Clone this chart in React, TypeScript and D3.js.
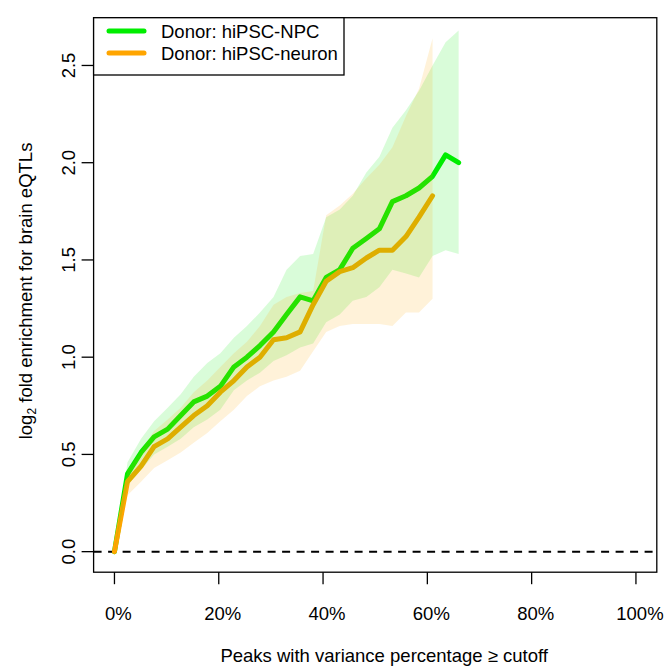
import React, { useEffect, useRef } from 'react'
import * as d3 from 'd3'

// percent of peaks kept at each variance cutoff
const cutoffs = [
  0, 2.5, 5.1, 7.6, 10.2, 12.7, 15.2, 17.8, 20.3, 22.9, 25.4, 27.9, 30.5, 33.0,
  35.6, 38.1, 40.6, 43.2, 45.7, 48.3, 50.8, 53.3, 55.9, 58.4, 61.0, 63.5, 66.0,
]

const npcMean = [
  0, 0.4, 0.51, 0.59, 0.63, 0.7, 0.77, 0.8, 0.85, 0.95, 1.0, 1.06, 1.13, 1.22,
  1.31, 1.29, 1.41, 1.45, 1.56, 1.61, 1.66, 1.8, 1.83, 1.87, 1.93, 2.04, 2.0,
]
const npcUpper = [
  0, 0.46, 0.58, 0.67, 0.74, 0.81, 0.9, 0.97, 1.02, 1.1, 1.16, 1.23, 1.31, 1.45,
  1.52, 1.53, 1.72, 1.76, 1.83, 1.95, 2.03, 2.18, 2.27, 2.37, 2.5, 2.62, 2.68,
]
const npcLower = [
  0, 0.34, 0.42, 0.5, 0.54, 0.58, 0.64, 0.68, 0.73, 0.83, 0.88, 0.92, 0.98, 1.01,
  1.05, 1.07, 1.18, 1.22, 1.29, 1.31, 1.36, 1.45, 1.43, 1.41, 1.52, 1.55, 1.53,
]

const neuronMean = [
  0, 0.36, 0.44, 0.54, 0.58, 0.64, 0.7, 0.75, 0.82, 0.88, 0.95, 1.0, 1.09, 1.1,
  1.13, 1.27, 1.39, 1.44, 1.46, 1.51, 1.55, 1.55, 1.62, 1.72, 1.83,
]
const neuronUpper = [
  0, 0.42, 0.52, 0.62, 0.68, 0.74, 0.82, 0.88, 0.95, 1.02, 1.08, 1.16, 1.27, 1.31,
  1.33, 1.34, 1.73, 1.78, 1.84, 1.92, 1.99, 2.08, 2.24, 2.38, 2.64,
]
const neuronLower = [
  0, 0.29, 0.36, 0.43, 0.47, 0.51, 0.56, 0.61, 0.67, 0.73, 0.8, 0.85, 0.88, 0.9,
  0.93, 1.03, 1.13, 1.16, 1.17, 1.17, 1.17, 1.16, 1.23, 1.23, 1.3,
]

const xTicks = [0, 20, 40, 60, 80, 100]
const yTicks = [0, 0.5, 1.0, 1.5, 2.0, 2.5]
const legendLabels = ['Donor: hiPSC-NPC', 'Donor: hiPSC-neuron']

const green = '#00EE00'
const orange = '#FFA500'
const font = "'Liberation Sans', Arial, Helvetica, sans-serif"
const fontSize = 18.5

// R style axes: 4% padding around the data limits
const x = d3.scaleLinear().domain([-4, 104]).range([93.6, 656.8])
const y = d3.scaleLinear().domain([-0.1056, 2.7456]).range([572.2, 17.7])

const App = () => {
  const svgRef = useRef<SVGSVGElement>(null)

  useEffect(() => {
    const svg = d3.select(svgRef.current)
    svg.selectAll('*').remove()

    const [left, right] = x.range()
    const [bottom, top] = y.range()

    svg
      .append('clipPath')
      .attr('id', 'plot-area')
      .append('rect')
      .attr('x', left)
      .attr('y', top)
      .attr('width', right - left)
      .attr('height', bottom - top)

    const plot = svg.append('g').attr('clip-path', 'url(#plot-area)')

    plot
      .append('line')
      .attr('x1', left)
      .attr('x2', right)
      .attr('y1', y(0))
      .attr('y2', y(0))
      .attr('stroke', '#000')
      .attr('stroke-width', 2)
      .attr('stroke-dasharray', '8,6.5')

    const line = d3
      .line<number>()
      .x((d, i) => x(cutoffs[i]))
      .y((d) => y(d))

    const series = [
      { mean: npcMean, lower: npcLower, upper: npcUpper, color: green },
      { mean: neuronMean, lower: neuronLower, upper: neuronUpper, color: orange },
    ]

    series.forEach((s) => {
      plot
        .append('path')
        .datum(s.mean)
        .attr('d', line)
        .attr('fill', 'none')
        .attr('stroke', s.color)
        .attr('stroke-width', 5)
        .attr('stroke-linejoin', 'round')
        .attr('stroke-linecap', 'round')
    })

    // confidence bands drawn over the lines, as in the original
    series.forEach((s) => {
      const area = d3
        .area<number>()
        .x((d, i) => x(cutoffs[i]))
        .y0((d, i) => y(s.lower[i]))
        .y1((d) => y(d))
      plot
        .append('path')
        .datum(s.upper)
        .attr('d', area)
        .attr('fill', s.color)
        .attr('fill-opacity', 0.15)
    })

    svg
      .append('rect')
      .attr('x', left)
      .attr('y', top)
      .attr('width', right - left)
      .attr('height', bottom - top)
      .attr('fill', 'none')
      .attr('stroke', '#000')
      .attr('stroke-width', 1.3)

    const xAxis = svg.append('g')
    xAxis
      .selectAll('line')
      .data(xTicks)
      .join('line')
      .attr('x1', (d) => x(d))
      .attr('x2', (d) => x(d))
      .attr('y1', bottom)
      .attr('y2', bottom + 12)
      .attr('stroke', '#000')
      .attr('stroke-width', 1.3)
    xAxis
      .selectAll('text')
      .data(xTicks)
      .join('text')
      .attr('x', (d) => x(d) + 4)
      .attr('y', 620)
      .attr('text-anchor', 'middle')
      .attr('font-family', font)
      .attr('font-size', fontSize)
      .text((d) => `${d}%`)

    const yAxis = svg.append('g')
    yAxis
      .selectAll('line')
      .data(yTicks)
      .join('line')
      .attr('x1', left - 12)
      .attr('x2', left)
      .attr('y1', (d) => y(d))
      .attr('y2', (d) => y(d))
      .attr('stroke', '#000')
      .attr('stroke-width', 1.3)
    yAxis
      .selectAll('text')
      .data(yTicks)
      .join('text')
      .attr('transform', (d) => `translate(75,${y(d)}) rotate(-90)`)
      .attr('text-anchor', 'middle')
      .attr('font-family', font)
      .attr('font-size', fontSize)
      .text((d) => d.toFixed(1))

    svg
      .append('text')
      .attr('x', (left + right) / 2 + 9)
      .attr('y', 662)
      .attr('text-anchor', 'middle')
      .attr('font-family', font)
      .attr('font-size', fontSize)
      .text('Peaks with variance percentage \u2265 cutoff')

    const yTitle = svg
      .append('text')
      .attr('transform', `translate(32,${(top + bottom) / 2 - 4}) rotate(-90)`)
      .attr('text-anchor', 'middle')
      .attr('font-family', font)
      .attr('font-size', fontSize)
    yTitle.append('tspan').text('log')
    yTitle.append('tspan').attr('font-size', 12).attr('dy', 4).text('2')
    yTitle.append('tspan').attr('dy', -4).text(' fold enrichment for brain eQTLs')

    const legend = svg.append('g')
    legend
      .append('rect')
      .attr('x', left)
      .attr('y', top)
      .attr('width', 344 - left)
      .attr('height', 75 - top)
      .attr('fill', '#fff')
      .attr('stroke', '#000')
      .attr('stroke-width', 1.3)

    const rows = legend
      .selectAll('g.row')
      .data(legendLabels)
      .join('g')
      .attr('class', 'row')
      .attr('transform', (d, i) => `translate(0,${31 + i * 22})`)
    rows
      .append('line')
      .attr('x1', 109)
      .attr('x2', 144)
      .attr('stroke', (d, i) => series[i].color)
      .attr('stroke-width', 5)
      .attr('stroke-linecap', 'round')
    rows
      .append('text')
      .attr('x', 161)
      .attr('y', 6.5)
      .attr('font-family', font)
      .attr('font-size', fontSize)
      .text((d) => d)
  }, [])

  return (
    <svg
      ref={svgRef}
      width={667}
      height={669}
      style={{ position: 'absolute', left: 0, top: 0, background: '#fff' }}
    />
  )
}

export default App
